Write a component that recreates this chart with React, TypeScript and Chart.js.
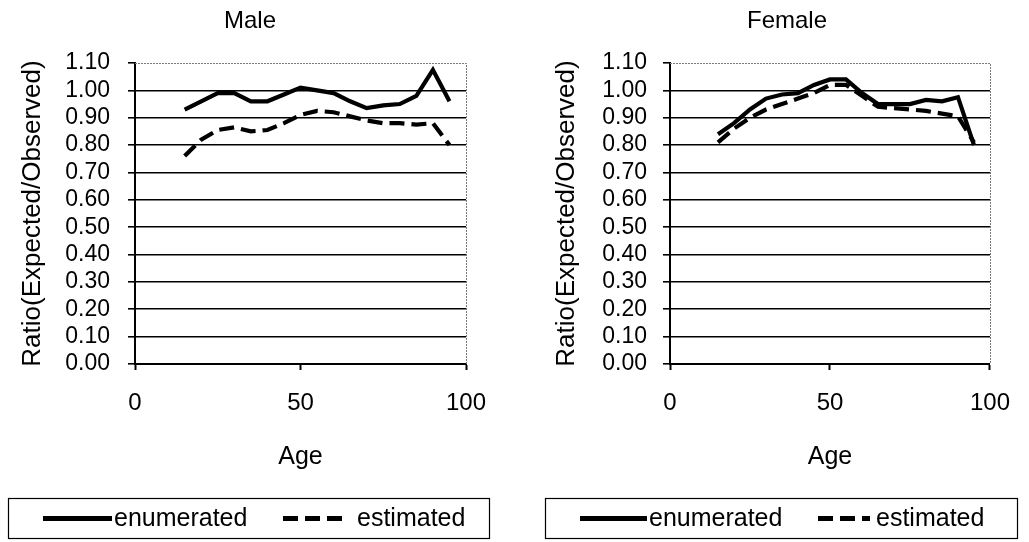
import React, { useEffect, useRef } from "react";
import { Chart, registerables } from "chart.js";

Chart.register(...registerables);

// ---- data ----
const ages = [15, 20, 25, 30, 35, 40, 45, 50, 55, 60, 65, 70, 75, 80, 85, 90, 95];
const maleEnumerated = [0.93, 0.96, 0.99, 0.99, 0.96, 0.96, 0.985, 1.01, 1.0, 0.99, 0.96, 0.935, 0.945, 0.95, 0.98, 1.075, 0.96];
const maleEstimated = [0.76, 0.82, 0.855, 0.865, 0.85, 0.855, 0.88, 0.91, 0.925, 0.92, 0.905, 0.89, 0.88, 0.88, 0.875, 0.88, 0.8];
const femaleEnumerated = [0.84, 0.88, 0.93, 0.97, 0.985, 0.99, 1.02, 1.04, 1.04, 0.99, 0.95, 0.95, 0.95, 0.965, 0.96, 0.975, 0.8];
const femaleEstimated = [0.81, 0.86, 0.9, 0.93, 0.95, 0.97, 0.99, 1.02, 1.02, 0.98, 0.94, 0.935, 0.93, 0.925, 0.915, 0.905, 0.81];

const seriesLabels = ["enumerated", "estimated"];
const panelTitles = ["Male", "Female"];
const yAxisTitle = "Ratio(Expected/Observed)";
const xAxisTitle = "Age";
const yTickValues = [0, 0.1, 0.2, 0.3, 0.4, 0.5, 0.6, 0.7, 0.8, 0.9, 1.0, 1.1];
const xTickValues = [0, 50, 100];

const FONT = "'Liberation Sans', Arial, Helvetica, sans-serif";
const H = 542;

type LegendItemPos = { x1: number; x2: number; textX: number };
type PanelCfg = {
  title: string;
  enumerated: number[];
  estimated: number[];
  canvasLeft: number;
  canvasWidth: number;
  plotLeft: number;
  plotRight: number;
  yTickPad: number;
  yTitlePad: number;
  titleX: number;
  box: { x: number; y: number; w: number; h: number };
  items: LegendItemPos[];
};

const panels: PanelCfg[] = [
  {
    title: panelTitles[0],
    enumerated: maleEnumerated,
    estimated: maleEstimated,
    canvasLeft: 0,
    canvasWidth: 514,
    plotLeft: 135,
    plotRight: 466,
    yTickPad: 18,
    yTitlePad: 17,
    titleX: 250,
    box: { x: 8.5, y: 498.5, w: 481, h: 40 },
    items: [
      { x1: 43, x2: 112, textX: 114 },
      { x1: 283, x2: 347, textX: 357 },
    ],
  },
  {
    title: panelTitles[1],
    enumerated: femaleEnumerated,
    estimated: femaleEstimated,
    canvasLeft: 514,
    canvasWidth: 515,
    plotLeft: 156,
    plotRight: 491,
    yTickPad: 16,
    yTitlePad: 37,
    titleX: 273,
    box: { x: 31.5, y: 498.5, w: 472, h: 40 },
    items: [
      { x1: 66, x2: 133, textX: 135 },
      { x1: 304, x2: 356, textX: 362 },
    ],
  },
];

const decorPlugin = {
  id: "panelDecor",
  afterDraw(chart: any, _args: any, opts: any) {
    const ctx = chart.ctx as CanvasRenderingContext2D;
    const ca = chart.chartArea;
    ctx.save();
    // grey dotted plot-area border (top & right)
    ctx.strokeStyle = "#7a7a7a";
    ctx.lineWidth = 1;
    ctx.setLineDash([2, 1]);
    ctx.beginPath();
    ctx.moveTo(ca.left, Math.round(ca.top) + 0.5);
    ctx.lineTo(Math.round(ca.right) + 0.5, Math.round(ca.top) + 0.5);
    ctx.lineTo(Math.round(ca.right) + 0.5, ca.bottom);
    ctx.stroke();
    ctx.setLineDash([]);

    // panel title
    ctx.fillStyle = "#000";
    ctx.font = `24px ${FONT}`;
    ctx.textAlign = "center";
    ctx.textBaseline = "middle";
    ctx.fillText(opts.title, opts.titleX, 21);

    // legend box
    const b = opts.box;
    ctx.strokeStyle = "#000";
    ctx.lineWidth = 1.2;
    ctx.strokeRect(b.x, b.y, b.w, b.h);
    const lineY = b.y + b.h / 2;
    ctx.font = `25px ${FONT}`;
    ctx.textAlign = "left";
    chart.data.datasets.forEach((ds: any, i: number) => {
      const it = opts.items[i];
      ctx.beginPath();
      ctx.setLineDash(ds.borderDash && ds.borderDash.length ? [15, 7] : []);
      ctx.lineWidth = 5;
      ctx.strokeStyle = "#000";
      ctx.moveTo(it.x1, lineY);
      ctx.lineTo(it.x2, lineY);
      ctx.stroke();
      ctx.setLineDash([]);
      ctx.fillText(ds.label, it.textX, lineY + 1);
    });
    ctx.restore();
  },
};

function Panel({ cfg }: { cfg: PanelCfg }) {
  const ref = useRef<HTMLCanvasElement | null>(null);
  useEffect(() => {
    if (!ref.current) return;
    const chart = new Chart(ref.current, {
      type: "line",
      data: {
        datasets: [
          {
            label: seriesLabels[0],
            data: ages.map((a, i) => ({ x: a, y: cfg.enumerated[i] })),
            borderColor: "#000",
            backgroundColor: "#000",
            borderWidth: 4.2,
            pointRadius: 0,
            tension: 0,
            fill: false,
          },
          {
            label: seriesLabels[1],
            data: ages.map((a, i) => ({ x: a, y: cfg.estimated[i] })),
            borderColor: "#000",
            backgroundColor: "#000",
            borderWidth: 4.2,
            borderDash: [15, 7],
            pointRadius: 0,
            tension: 0,
            fill: false,
          },
        ],
      },
      options: {
        responsive: false,
        animation: false,
        events: [],
        layout: {
          padding: { top: 63, bottom: 70, left: 0, right: cfg.canvasWidth - cfg.plotRight },
        },
        plugins: {
          legend: { display: false },
          title: { display: false },
          tooltip: { enabled: false },
          panelDecor: { title: cfg.title, titleX: cfg.titleX, box: cfg.box, items: cfg.items },
        } as any,
        scales: {
          x: {
            type: "linear",
            min: 0,
            max: 100,
            afterBuildTicks: (s: any) => {
              s.ticks = xTickValues.map((v) => ({ value: v }));
            },
            afterFit: (s: any) => {
              s.height = 108;
            },
            ticks: {
              font: { family: FONT, size: 24 },
              color: "#000",
              padding: 19,
              maxRotation: 0,
              autoSkip: false,
            },
            grid: {
              drawOnChartArea: false,
              drawTicks: true,
              tickLength: 6,
              tickColor: "#000",
              tickWidth: 2,
              color: "#000",
            },
            border: { display: true, color: "#000", width: 2 },
            title: {
              display: true,
              text: xAxisTitle,
              font: { family: FONT, size: 25 },
              color: "#000",
              padding: { top: 0, bottom: 0 },
            },
          },
          y: {
            type: "linear",
            min: 0,
            max: 1.1,
            afterBuildTicks: (s: any) => {
              s.ticks = yTickValues.map((v) => ({ value: v }));
            },
            afterFit: (s: any) => {
              s.width = cfg.plotLeft;
            },
            ticks: {
              font: { family: FONT, size: 23 },
              color: "#000",
              padding: cfg.yTickPad,
              autoSkip: false,
              callback: (v: any) => Number(v).toFixed(2),
            },
            grid: {
              color: (c: any) =>
                c.tick && Math.abs(c.tick.value - 1.1) < 1e-6 ? "rgba(0,0,0,0)" : "#000",
              lineWidth: 1.6,
              tickLength: 7,
              tickColor: "#000",
              tickWidth: 1.6,
            },
            border: { display: true, color: "#000", width: 2 },
            title: {
              display: true,
              text: yAxisTitle,
              font: { family: FONT, size: 26 },
              color: "#000",
              padding: { top: cfg.yTitlePad, bottom: 0 },
            },
          },
        },
      },
      plugins: [decorPlugin],
    } as any);
    return () => chart.destroy();
  }, [cfg]);
  return (
    <canvas
      ref={ref}
      width={cfg.canvasWidth}
      height={H}
      style={{ position: "absolute", left: cfg.canvasLeft, top: 0, display: "block" }}
    />
  );
}

export default function App() {
  return (
    <div style={{ position: "absolute", left: 0, top: 0, width: 1029, height: H, background: "#fff" }}>
      {panels.map((p) => (
        <Panel key={p.title} cfg={p} />
      ))}
    </div>
  );
}
